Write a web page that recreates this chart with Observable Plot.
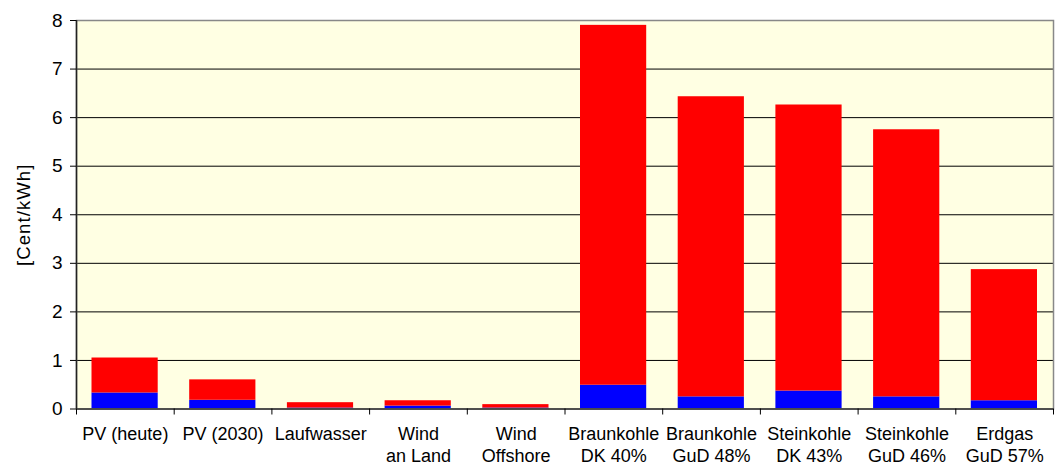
<!DOCTYPE html>
<html>
<head>
<meta charset="utf-8">
<script src="https://cdn.jsdelivr.net/npm/d3@7"></script>
<script src="https://cdn.jsdelivr.net/npm/@observablehq/plot@0.6"></script>
<style>
  html, body { margin: 0; padding: 0; background: #ffffff; }
  #chart svg { display: block; }
  #chart g[aria-label="text"] text { letter-spacing: 1.1px; }
</style>
</head>
<body>
<div id="chart"></div>
<script>
// Power generation options (bottom axis)
const categories = [
  "PV (heute)", "PV (2030)", "Laufwasser", "Wind\nan Land", "Wind\nOffshore",
  "Braunkohle\nDK 40%", "Braunkohle\nGuD 48%", "Steinkohle\nDK 43%",
  "Steinkohle\nGuD 46%", "Erdgas\nGuD 57%"
];
// Lower (blue) segment of each bar, Cent/kWh
const lowerPart = [0.33, 0.18, 0.02, 0.06, 0.02, 0.49, 0.25, 0.37, 0.25, 0.17];
// Upper (red) segment of each bar, Cent/kWh
const upperPart = [0.72, 0.42, 0.11, 0.11, 0.07, 7.41, 6.18, 5.89, 5.50, 2.70];
// Y axis ticks and gridlines
const yTicks = [0, 1, 2, 3, 4, 5, 6, 7, 8];
const yGrid = [1, 2, 3, 4, 5, 6, 7];
const yLabel = "[Cent/kWh]";

const rows = [];
categories.forEach((c, i) => {
  rows.push({cat: c, part: "unten", value: lowerPart[i]});
  rows.push({cat: c, part: "oben", value: upperPart[i]});
});

const W = 1058, H = 464;
const mL = 76, mR = 5, mT = 20, mB = 55.5;
const step = (W - mL - mR) / categories.length;
const font = "'Liberation Sans', Arial, sans-serif";

const chart = Plot.plot({
  width: W,
  height: H,
  marginLeft: mL,
  marginRight: mR,
  marginTop: mT,
  marginBottom: mB,
  style: {fontFamily: font, fontSize: "18px", color: "#000", background: "#fff"},
  x: {domain: categories, padding: 0, round: false},
  y: {domain: [0, 8]},
  color: {domain: ["unten", "oben"], range: ["#0000ff", "#ff0000"]},
  marks: [
    Plot.frame({fill: "#ffffe3", stroke: null}),
    Plot.gridY(yGrid, {stroke: "#000", strokeOpacity: 1, strokeWidth: 1}),
    Plot.barY(rows, Plot.stackY({
      x: "cat", y: "value", fill: "part", order: ["unten", "oben"],
      insetLeft: 15.5, insetRight: 16
    })),
    Plot.frame({stroke: "#888", strokeWidth: 1.5}),
    Plot.ruleX([categories[0]], {dx: -step / 2, stroke: "#222", strokeWidth: 1.5}),
    Plot.ruleY([0], {stroke: "#333", strokeWidth: 1.5}),
    Plot.axisY(yTicks, {tickSize: 6, tickPadding: 8, fontSize: 19, label: null}),
    Plot.text([yLabel], {
      text: d => d, frameAnchor: "left", textAnchor: "middle", rotate: -90, dx: -52,
      fontSize: 18.5
    }),
    // tick marks between categories
    Plot.axisX(categories, {tickSize: 6, text: null, dx: -step / 2, label: null}),
    Plot.axisX([categories[categories.length - 1]], {tickSize: 6, text: null, dx: step / 2, label: null}),
    // category labels
    Plot.axisX(categories, {tickSize: 0, tickPadding: 16.5, lineHeight: 1.17, fontSize: 18, label: null})
  ]
});

document.getElementById("chart").appendChild(chart);
</script>
</body>
</html>
